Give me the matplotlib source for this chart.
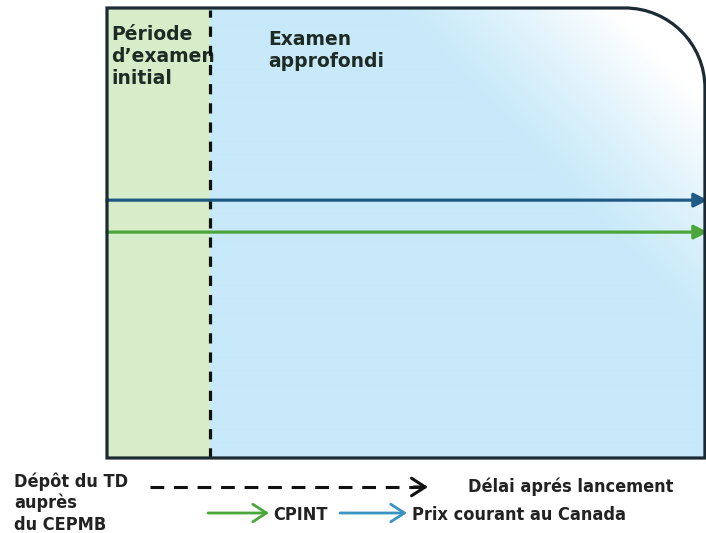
import numpy as np
import matplotlib
matplotlib.use("Agg")
import matplotlib.pyplot as plt
from matplotlib.path import Path
from matplotlib.patches import PathPatch, Rectangle

# Phases de l'examen (axe du temps, en unités arbitraires depuis le dépôt)
stages = ["Période\nd’examen\ninitial", "Examen\napprofondi"]
stage_start = [0.0, 1.0]
stage_end = [1.0, 5.83]

# Niveaux de prix (échelle relative 0-1)
price_series = ["Prix courant au Canada", "CPINT"]
price_level = [0.573, 0.502]
price_colors = ["#1f5a85", "#4aa63a"]

legend_left = ["Dépôt du TD", "auprès", "du CEPMB"]
legend_delay = "Délai aprés lancement"

narrow = dict(family=["DejaVu Sans"], fontstretch="condensed", weight="bold",
              fontsize=13, color="#222222", va="baseline", ha="left")

fig = plt.figure(figsize=(7.06, 5.33), dpi=100)
ax = fig.add_axes([107 / 706, 75 / 533, 600 / 706, 450 / 533])
ax.set_xlim(0, 5.85)
ax.set_ylim(0, 1)
ax.axis("off")

# contour de la boîte avec coin arrondi en haut à droite
xr = stage_end[-1]
rx, ry = 0.78, 0.178
k = 0.5523
verts = [(0, 0), (xr, 0), (xr, 1 - ry),
         (xr, 1 - ry + k * ry), (xr - rx + k * rx, 1), (xr - rx, 1),
         (0, 1), (0, 0)]
codes = [Path.MOVETO, Path.LINETO, Path.LINETO,
         Path.CURVE4, Path.CURVE4, Path.CURVE4,
         Path.LINETO, Path.CLOSEPOLY]
box = PathPatch(Path(verts, codes), facecolor="none", edgecolor="#1b2a33",
                lw=2.3, zorder=5, clip_on=False)
ax.add_patch(box)

# fond bleu dégradé (examen approfondi)
nx, ny = 300, 200
u = np.linspace(0, 1, nx)[None, :]
v = np.linspace(0, 1, ny)[:, None]
w = np.clip((u * 0.85 + v * 0.6 - 1.0) / 0.32, 0, 1) ** 1.2
blue = np.array([199, 233, 249]) / 255
img = blue[None, None, :] * (1 - w[..., None]) + np.ones(3) * w[..., None]
im = ax.imshow(img, extent=[0, 5.85, 0, 1], origin="lower", aspect="auto", zorder=1)
im.set_clip_path(box)

# fond vert (période initiale)
ax.add_patch(Rectangle((stage_start[0], 0), stage_end[0] - stage_start[0], 1,
                       facecolor="#d7ecc8", edgecolor="none", zorder=2))

# textes des phases
ax.text(0.04, 0.963, stages[0], family="DejaVu Sans", weight="bold", fontsize=13.5,
        color="#1e2a24", va="top", ha="left", linespacing=1.2, zorder=3)
ax.text(1.57, 0.952, stages[1], family="DejaVu Sans", weight="bold", fontsize=13.5,
        color="#1e2a24", va="top", ha="left", linespacing=1.2, zorder=3)

# ligne pointillée verticale
ax.plot([stage_end[0], stage_end[0]], [0, 0.995], color="#111111", lw=2.3,
        dashes=(3.2, 2.8), zorder=4, solid_capstyle="butt")

# lignes de prix
for lvl, col in zip(price_level, price_colors):
    ax.annotate("", xy=(5.86, lvl), xytext=(0, lvl), annotation_clip=False,
                arrowprops=dict(arrowstyle="-|>,head_length=0.6,head_width=0.3",
                                color=col, lw=2.3, shrinkA=0, shrinkB=0,
                                mutation_scale=14), zorder=4)

# légende en bas, en pixels
lg = fig.add_axes([0, 0, 1, 1])
lg.set_xlim(0, 706)
lg.set_ylim(533, 0)
lg.axis("off")
lg.patch.set_alpha(0)

for i, line in enumerate(legend_left):
    lg.text(14, 487 + i * 21.5, line, **narrow)

lg.plot([150, 420], [487, 487], color="#111111", lw=2.2, dashes=(4.5, 3.2))
lg.annotate("", xy=(428, 487), xytext=(414, 487),
            arrowprops=dict(arrowstyle="->,head_length=0.7,head_width=0.45",
                            color="#111111", lw=2.2, shrinkA=0, shrinkB=0,
                            mutation_scale=14))
lg.text(468, 492, legend_delay, **narrow)

lg.annotate("", xy=(269, 513), xytext=(208, 513),
            arrowprops=dict(arrowstyle="->,head_length=0.7,head_width=0.45",
                            color=price_colors[1], lw=2.0, shrinkA=0, shrinkB=0,
                            mutation_scale=14))
lg.text(273, 520, price_series[1], **narrow)
lg.annotate("", xy=(407, 513), xytext=(340, 513),
            arrowprops=dict(arrowstyle="->,head_length=0.7,head_width=0.45",
                            color="#3a93c0", lw=2.0, shrinkA=0, shrinkB=0,
                            mutation_scale=14))
lg.text(412, 520, price_series[0], **narrow)

fig.savefig("out.png", dpi=100)
